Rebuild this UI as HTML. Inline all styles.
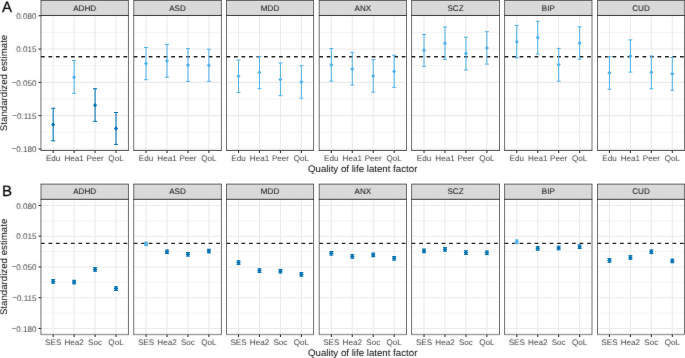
<!DOCTYPE html><html><head><meta charset="utf-8"><style>
html,body{margin:0;padding:0;background:#fff;}
svg{display:block;will-change:transform;}
text{font-family:"Liberation Sans",sans-serif;text-rendering:geometricPrecision;}
.tk{font-size:8.1px;fill:#404040;}
.st{font-size:8.1px;fill:#0A0A0A;}
.ti{font-size:9.7px;fill:#000;}
.tg{font-size:15px;fill:#000;stroke:#000;stroke-width:0.25px;}
</style></head><body>
<svg width="685" height="358" viewBox="0 0 685 358">
<defs><filter id="tb" x="0" y="0" width="685" height="358" filterUnits="userSpaceOnUse"><feConvolveMatrix order="3" kernelMatrix="0.01 0.05 0.01 0.08 0.70 0.08 0.01 0.05 0.01" edgeMode="none"/></filter></defs>
<rect x="0" y="0" width="685" height="358" fill="#fff"/>
<line x1="40.96" x2="128.45" y1="32.41" y2="32.41" stroke="#EBEBEB" stroke-width="0.55"/>
<line x1="40.96" x2="128.45" y1="65.71" y2="65.71" stroke="#EBEBEB" stroke-width="0.55"/>
<line x1="40.96" x2="128.45" y1="99.01" y2="99.01" stroke="#EBEBEB" stroke-width="0.55"/>
<line x1="40.96" x2="128.45" y1="132.31" y2="132.31" stroke="#EBEBEB" stroke-width="0.55"/>
<line x1="40.96" x2="128.45" y1="15.76" y2="15.76" stroke="#EBEBEB" stroke-width="1.1"/>
<line x1="40.96" x2="128.45" y1="49.06" y2="49.06" stroke="#EBEBEB" stroke-width="1.1"/>
<line x1="40.96" x2="128.45" y1="82.36" y2="82.36" stroke="#EBEBEB" stroke-width="1.1"/>
<line x1="40.96" x2="128.45" y1="115.66" y2="115.66" stroke="#EBEBEB" stroke-width="1.1"/>
<line x1="40.96" x2="128.45" y1="148.96" y2="148.96" stroke="#EBEBEB" stroke-width="1.1"/>
<line x1="53.18" x2="53.18" y1="15.45" y2="150.45" stroke="#EBEBEB" stroke-width="1.1"/>
<line x1="74.13" x2="74.13" y1="15.45" y2="150.45" stroke="#EBEBEB" stroke-width="1.1"/>
<line x1="95.08" x2="95.08" y1="15.45" y2="150.45" stroke="#EBEBEB" stroke-width="1.1"/>
<line x1="116.03" x2="116.03" y1="15.45" y2="150.45" stroke="#EBEBEB" stroke-width="1.1"/>
<line x1="40.96" x2="128.45" y1="56.74" y2="56.74" stroke="#262626" stroke-width="1.35" stroke-dasharray="3.75 3.75"/>
<g stroke="#0072B2" stroke-width="1.05" fill="none"><line x1="53.18" x2="53.18" y1="108.3" y2="140.8"/><line x1="51.18" x2="55.18" y1="108.3" y2="108.3"/><line x1="51.18" x2="55.18" y1="140.8" y2="140.8"/></g>
<path d="M51.08 124.6L53.18 122.50L55.28 124.6L53.18 126.70Z" fill="#0072B2"/>
<g stroke="#56B4E9" stroke-width="1.05" fill="none"><line x1="74.13" x2="74.13" y1="60.5" y2="93.3"/><line x1="72.13" x2="76.13" y1="60.5" y2="60.5"/><line x1="72.13" x2="76.13" y1="93.3" y2="93.3"/></g>
<path d="M72.03 77.3L74.13 75.20L76.23 77.3L74.13 79.40Z" fill="#56B4E9"/>
<g stroke="#0072B2" stroke-width="1.05" fill="none"><line x1="95.08" x2="95.08" y1="88.7" y2="121.4"/><line x1="93.08" x2="97.08" y1="88.7" y2="88.7"/><line x1="93.08" x2="97.08" y1="121.4" y2="121.4"/></g>
<path d="M92.98 105.2L95.08 103.10L97.18 105.2L95.08 107.30Z" fill="#0072B2"/>
<g stroke="#0072B2" stroke-width="1.05" fill="none"><line x1="116.03" x2="116.03" y1="112.5" y2="144.4"/><line x1="114.03" x2="118.03" y1="112.5" y2="112.5"/><line x1="114.03" x2="118.03" y1="144.4" y2="144.4"/></g>
<path d="M113.93 128.4L116.03 126.30L118.13 128.4L116.03 130.50Z" fill="#0072B2"/>
<rect x="40.96" y="0.40" width="87.49" height="15.05" fill="#D9D9D9"/>
<line x1="40.61" x2="128.80" y1="0.40" y2="0.40" stroke="#333" stroke-width="0.8"/>
<line x1="40.61" x2="128.80" y1="15.45" y2="15.45" stroke="#333" stroke-width="0.95"/>
<line x1="40.61" x2="128.80" y1="150.45" y2="150.45" stroke="#333" stroke-width="0.85"/>
<line x1="40.96" x2="40.96" y1="0.40" y2="150.45" stroke="#333" stroke-width="0.7"/>
<line x1="128.45" x2="128.45" y1="0.40" y2="150.45" stroke="#333" stroke-width="0.7"/>
<line x1="53.18" x2="53.18" y1="150.45" y2="152.88" stroke="#333" stroke-width="1.1"/>
<line x1="74.13" x2="74.13" y1="150.45" y2="152.88" stroke="#333" stroke-width="1.1"/>
<line x1="95.08" x2="95.08" y1="150.45" y2="152.88" stroke="#333" stroke-width="1.1"/>
<line x1="116.03" x2="116.03" y1="150.45" y2="152.88" stroke="#333" stroke-width="1.1"/>
<line x1="133.72" x2="221.40" y1="32.41" y2="32.41" stroke="#EBEBEB" stroke-width="0.55"/>
<line x1="133.72" x2="221.40" y1="65.71" y2="65.71" stroke="#EBEBEB" stroke-width="0.55"/>
<line x1="133.72" x2="221.40" y1="99.01" y2="99.01" stroke="#EBEBEB" stroke-width="0.55"/>
<line x1="133.72" x2="221.40" y1="132.31" y2="132.31" stroke="#EBEBEB" stroke-width="0.55"/>
<line x1="133.72" x2="221.40" y1="15.76" y2="15.76" stroke="#EBEBEB" stroke-width="1.1"/>
<line x1="133.72" x2="221.40" y1="49.06" y2="49.06" stroke="#EBEBEB" stroke-width="1.1"/>
<line x1="133.72" x2="221.40" y1="82.36" y2="82.36" stroke="#EBEBEB" stroke-width="1.1"/>
<line x1="133.72" x2="221.40" y1="115.66" y2="115.66" stroke="#EBEBEB" stroke-width="1.1"/>
<line x1="133.72" x2="221.40" y1="148.96" y2="148.96" stroke="#EBEBEB" stroke-width="1.1"/>
<line x1="146.04" x2="146.04" y1="15.45" y2="150.45" stroke="#EBEBEB" stroke-width="1.1"/>
<line x1="166.99" x2="166.99" y1="15.45" y2="150.45" stroke="#EBEBEB" stroke-width="1.1"/>
<line x1="187.94" x2="187.94" y1="15.45" y2="150.45" stroke="#EBEBEB" stroke-width="1.1"/>
<line x1="208.88" x2="208.88" y1="15.45" y2="150.45" stroke="#EBEBEB" stroke-width="1.1"/>
<line x1="133.72" x2="221.40" y1="56.74" y2="56.74" stroke="#262626" stroke-width="1.35" stroke-dasharray="3.75 3.75"/>
<g stroke="#56B4E9" stroke-width="1.05" fill="none"><line x1="146.04" x2="146.04" y1="47.5" y2="79.7"/><line x1="144.04" x2="148.04" y1="47.5" y2="47.5"/><line x1="144.04" x2="148.04" y1="79.7" y2="79.7"/></g>
<path d="M143.94 63.6L146.04 61.50L148.14 63.6L146.04 65.70Z" fill="#56B4E9"/>
<g stroke="#56B4E9" stroke-width="1.05" fill="none"><line x1="166.99" x2="166.99" y1="44.4" y2="77.2"/><line x1="164.99" x2="168.99" y1="44.4" y2="44.4"/><line x1="164.99" x2="168.99" y1="77.2" y2="77.2"/></g>
<path d="M164.89 60.9L166.99 58.80L169.09 60.9L166.99 63.00Z" fill="#56B4E9"/>
<g stroke="#56B4E9" stroke-width="1.05" fill="none"><line x1="187.94" x2="187.94" y1="48.6" y2="81.4"/><line x1="185.94" x2="189.94" y1="48.6" y2="48.6"/><line x1="185.94" x2="189.94" y1="81.4" y2="81.4"/></g>
<path d="M185.84 65.1L187.94 63.00L190.03 65.1L187.94 67.20Z" fill="#56B4E9"/>
<g stroke="#56B4E9" stroke-width="1.05" fill="none"><line x1="208.88" x2="208.88" y1="49.2" y2="81.4"/><line x1="206.88" x2="210.88" y1="49.2" y2="49.2"/><line x1="206.88" x2="210.88" y1="81.4" y2="81.4"/></g>
<path d="M206.78 65.3L208.88 63.20L210.98 65.3L208.88 67.40Z" fill="#56B4E9"/>
<rect x="133.72" y="0.40" width="87.68" height="15.05" fill="#D9D9D9"/>
<line x1="133.37" x2="221.75" y1="0.40" y2="0.40" stroke="#333" stroke-width="0.8"/>
<line x1="133.37" x2="221.75" y1="15.45" y2="15.45" stroke="#333" stroke-width="0.95"/>
<line x1="133.37" x2="221.75" y1="150.45" y2="150.45" stroke="#333" stroke-width="0.85"/>
<line x1="133.72" x2="133.72" y1="0.40" y2="150.45" stroke="#333" stroke-width="0.7"/>
<line x1="221.40" x2="221.40" y1="0.40" y2="150.45" stroke="#333" stroke-width="0.7"/>
<line x1="146.04" x2="146.04" y1="150.45" y2="152.88" stroke="#333" stroke-width="1.1"/>
<line x1="166.99" x2="166.99" y1="150.45" y2="152.88" stroke="#333" stroke-width="1.1"/>
<line x1="187.94" x2="187.94" y1="150.45" y2="152.88" stroke="#333" stroke-width="1.1"/>
<line x1="208.88" x2="208.88" y1="150.45" y2="152.88" stroke="#333" stroke-width="1.1"/>
<line x1="226.50" x2="313.60" y1="32.41" y2="32.41" stroke="#EBEBEB" stroke-width="0.55"/>
<line x1="226.50" x2="313.60" y1="65.71" y2="65.71" stroke="#EBEBEB" stroke-width="0.55"/>
<line x1="226.50" x2="313.60" y1="99.01" y2="99.01" stroke="#EBEBEB" stroke-width="0.55"/>
<line x1="226.50" x2="313.60" y1="132.31" y2="132.31" stroke="#EBEBEB" stroke-width="0.55"/>
<line x1="226.50" x2="313.60" y1="15.76" y2="15.76" stroke="#EBEBEB" stroke-width="1.1"/>
<line x1="226.50" x2="313.60" y1="49.06" y2="49.06" stroke="#EBEBEB" stroke-width="1.1"/>
<line x1="226.50" x2="313.60" y1="82.36" y2="82.36" stroke="#EBEBEB" stroke-width="1.1"/>
<line x1="226.50" x2="313.60" y1="115.66" y2="115.66" stroke="#EBEBEB" stroke-width="1.1"/>
<line x1="226.50" x2="313.60" y1="148.96" y2="148.96" stroke="#EBEBEB" stroke-width="1.1"/>
<line x1="238.52" x2="238.52" y1="15.45" y2="150.45" stroke="#EBEBEB" stroke-width="1.1"/>
<line x1="259.47" x2="259.47" y1="15.45" y2="150.45" stroke="#EBEBEB" stroke-width="1.1"/>
<line x1="280.43" x2="280.43" y1="15.45" y2="150.45" stroke="#EBEBEB" stroke-width="1.1"/>
<line x1="301.38" x2="301.38" y1="15.45" y2="150.45" stroke="#EBEBEB" stroke-width="1.1"/>
<line x1="226.50" x2="313.60" y1="56.74" y2="56.74" stroke="#262626" stroke-width="1.35" stroke-dasharray="3.75 3.75"/>
<g stroke="#56B4E9" stroke-width="1.05" fill="none"><line x1="238.52" x2="238.52" y1="60.0" y2="92.5"/><line x1="236.52" x2="240.52" y1="60.0" y2="60.0"/><line x1="236.52" x2="240.52" y1="92.5" y2="92.5"/></g>
<path d="M236.42 76.2L238.52 74.10L240.62 76.2L238.52 78.30Z" fill="#56B4E9"/>
<g stroke="#56B4E9" stroke-width="1.05" fill="none"><line x1="259.47" x2="259.47" y1="56.4" y2="88.7"/><line x1="257.47" x2="261.47" y1="56.4" y2="56.4"/><line x1="257.47" x2="261.47" y1="88.7" y2="88.7"/></g>
<path d="M257.37 72.5L259.47 70.40L261.57 72.5L259.47 74.60Z" fill="#56B4E9"/>
<g stroke="#56B4E9" stroke-width="1.05" fill="none"><line x1="280.43" x2="280.43" y1="62.9" y2="95.7"/><line x1="278.43" x2="282.43" y1="62.9" y2="62.9"/><line x1="278.43" x2="282.43" y1="95.7" y2="95.7"/></g>
<path d="M278.32 79.4L280.43 77.30L282.53 79.4L280.43 81.50Z" fill="#56B4E9"/>
<g stroke="#56B4E9" stroke-width="1.05" fill="none"><line x1="301.38" x2="301.38" y1="65.6" y2="98.2"/><line x1="299.38" x2="303.38" y1="65.6" y2="65.6"/><line x1="299.38" x2="303.38" y1="98.2" y2="98.2"/></g>
<path d="M299.27 81.9L301.38 79.80L303.48 81.9L301.38 84.00Z" fill="#56B4E9"/>
<rect x="226.50" y="0.40" width="87.10" height="15.05" fill="#D9D9D9"/>
<line x1="226.15" x2="313.95" y1="0.40" y2="0.40" stroke="#333" stroke-width="0.8"/>
<line x1="226.15" x2="313.95" y1="15.45" y2="15.45" stroke="#333" stroke-width="0.95"/>
<line x1="226.15" x2="313.95" y1="150.45" y2="150.45" stroke="#333" stroke-width="0.85"/>
<line x1="226.50" x2="226.50" y1="0.40" y2="150.45" stroke="#333" stroke-width="0.7"/>
<line x1="313.60" x2="313.60" y1="0.40" y2="150.45" stroke="#333" stroke-width="0.7"/>
<line x1="238.52" x2="238.52" y1="150.45" y2="152.88" stroke="#333" stroke-width="1.1"/>
<line x1="259.47" x2="259.47" y1="150.45" y2="152.88" stroke="#333" stroke-width="1.1"/>
<line x1="280.43" x2="280.43" y1="150.45" y2="152.88" stroke="#333" stroke-width="1.1"/>
<line x1="301.38" x2="301.38" y1="150.45" y2="152.88" stroke="#333" stroke-width="1.1"/>
<line x1="319.20" x2="406.50" y1="32.41" y2="32.41" stroke="#EBEBEB" stroke-width="0.55"/>
<line x1="319.20" x2="406.50" y1="65.71" y2="65.71" stroke="#EBEBEB" stroke-width="0.55"/>
<line x1="319.20" x2="406.50" y1="99.01" y2="99.01" stroke="#EBEBEB" stroke-width="0.55"/>
<line x1="319.20" x2="406.50" y1="132.31" y2="132.31" stroke="#EBEBEB" stroke-width="0.55"/>
<line x1="319.20" x2="406.50" y1="15.76" y2="15.76" stroke="#EBEBEB" stroke-width="1.1"/>
<line x1="319.20" x2="406.50" y1="49.06" y2="49.06" stroke="#EBEBEB" stroke-width="1.1"/>
<line x1="319.20" x2="406.50" y1="82.36" y2="82.36" stroke="#EBEBEB" stroke-width="1.1"/>
<line x1="319.20" x2="406.50" y1="115.66" y2="115.66" stroke="#EBEBEB" stroke-width="1.1"/>
<line x1="319.20" x2="406.50" y1="148.96" y2="148.96" stroke="#EBEBEB" stroke-width="1.1"/>
<line x1="331.32" x2="331.32" y1="15.45" y2="150.45" stroke="#EBEBEB" stroke-width="1.1"/>
<line x1="352.27" x2="352.27" y1="15.45" y2="150.45" stroke="#EBEBEB" stroke-width="1.1"/>
<line x1="373.23" x2="373.23" y1="15.45" y2="150.45" stroke="#EBEBEB" stroke-width="1.1"/>
<line x1="394.18" x2="394.18" y1="15.45" y2="150.45" stroke="#EBEBEB" stroke-width="1.1"/>
<line x1="319.20" x2="406.50" y1="56.74" y2="56.74" stroke="#262626" stroke-width="1.35" stroke-dasharray="3.75 3.75"/>
<g stroke="#56B4E9" stroke-width="1.05" fill="none"><line x1="331.32" x2="331.32" y1="48.6" y2="81.2"/><line x1="329.32" x2="333.32" y1="48.6" y2="48.6"/><line x1="329.32" x2="333.32" y1="81.2" y2="81.2"/></g>
<path d="M329.22 64.9L331.32 62.80L333.43 64.9L331.32 67.00Z" fill="#56B4E9"/>
<g stroke="#56B4E9" stroke-width="1.05" fill="none"><line x1="352.27" x2="352.27" y1="52.4" y2="85.0"/><line x1="350.27" x2="354.27" y1="52.4" y2="52.4"/><line x1="350.27" x2="354.27" y1="85.0" y2="85.0"/></g>
<path d="M350.17 68.9L352.27 66.80L354.38 68.9L352.27 71.00Z" fill="#56B4E9"/>
<g stroke="#56B4E9" stroke-width="1.05" fill="none"><line x1="373.23" x2="373.23" y1="59.6" y2="92.2"/><line x1="371.23" x2="375.23" y1="59.6" y2="59.6"/><line x1="371.23" x2="375.23" y1="92.2" y2="92.2"/></g>
<path d="M371.12 76.1L373.23 74.00L375.33 76.1L373.23 78.20Z" fill="#56B4E9"/>
<g stroke="#56B4E9" stroke-width="1.05" fill="none"><line x1="394.18" x2="394.18" y1="55.2" y2="87.3"/><line x1="392.18" x2="396.18" y1="55.2" y2="55.2"/><line x1="392.18" x2="396.18" y1="87.3" y2="87.3"/></g>
<path d="M392.07 71.4L394.18 69.30L396.28 71.4L394.18 73.50Z" fill="#56B4E9"/>
<rect x="319.20" y="0.40" width="87.30" height="15.05" fill="#D9D9D9"/>
<line x1="318.85" x2="406.85" y1="0.40" y2="0.40" stroke="#333" stroke-width="0.8"/>
<line x1="318.85" x2="406.85" y1="15.45" y2="15.45" stroke="#333" stroke-width="0.95"/>
<line x1="318.85" x2="406.85" y1="150.45" y2="150.45" stroke="#333" stroke-width="0.85"/>
<line x1="319.20" x2="319.20" y1="0.40" y2="150.45" stroke="#333" stroke-width="0.7"/>
<line x1="406.50" x2="406.50" y1="0.40" y2="150.45" stroke="#333" stroke-width="0.7"/>
<line x1="331.32" x2="331.32" y1="150.45" y2="152.88" stroke="#333" stroke-width="1.1"/>
<line x1="352.27" x2="352.27" y1="150.45" y2="152.88" stroke="#333" stroke-width="1.1"/>
<line x1="373.23" x2="373.23" y1="150.45" y2="152.88" stroke="#333" stroke-width="1.1"/>
<line x1="394.18" x2="394.18" y1="150.45" y2="152.88" stroke="#333" stroke-width="1.1"/>
<line x1="411.60" x2="499.50" y1="32.41" y2="32.41" stroke="#EBEBEB" stroke-width="0.55"/>
<line x1="411.60" x2="499.50" y1="65.71" y2="65.71" stroke="#EBEBEB" stroke-width="0.55"/>
<line x1="411.60" x2="499.50" y1="99.01" y2="99.01" stroke="#EBEBEB" stroke-width="0.55"/>
<line x1="411.60" x2="499.50" y1="132.31" y2="132.31" stroke="#EBEBEB" stroke-width="0.55"/>
<line x1="411.60" x2="499.50" y1="15.76" y2="15.76" stroke="#EBEBEB" stroke-width="1.1"/>
<line x1="411.60" x2="499.50" y1="49.06" y2="49.06" stroke="#EBEBEB" stroke-width="1.1"/>
<line x1="411.60" x2="499.50" y1="82.36" y2="82.36" stroke="#EBEBEB" stroke-width="1.1"/>
<line x1="411.60" x2="499.50" y1="115.66" y2="115.66" stroke="#EBEBEB" stroke-width="1.1"/>
<line x1="411.60" x2="499.50" y1="148.96" y2="148.96" stroke="#EBEBEB" stroke-width="1.1"/>
<line x1="424.02" x2="424.02" y1="15.45" y2="150.45" stroke="#EBEBEB" stroke-width="1.1"/>
<line x1="444.97" x2="444.97" y1="15.45" y2="150.45" stroke="#EBEBEB" stroke-width="1.1"/>
<line x1="465.93" x2="465.93" y1="15.45" y2="150.45" stroke="#EBEBEB" stroke-width="1.1"/>
<line x1="486.88" x2="486.88" y1="15.45" y2="150.45" stroke="#EBEBEB" stroke-width="1.1"/>
<line x1="411.60" x2="499.50" y1="56.74" y2="56.74" stroke="#262626" stroke-width="1.35" stroke-dasharray="3.75 3.75"/>
<g stroke="#56B4E9" stroke-width="1.05" fill="none"><line x1="424.02" x2="424.02" y1="34.4" y2="66.4"/><line x1="422.02" x2="426.02" y1="34.4" y2="34.4"/><line x1="422.02" x2="426.02" y1="66.4" y2="66.4"/></g>
<path d="M421.92 50.3L424.02 48.20L426.12 50.3L424.02 52.40Z" fill="#56B4E9"/>
<g stroke="#56B4E9" stroke-width="1.05" fill="none"><line x1="444.97" x2="444.97" y1="27.0" y2="59.4"/><line x1="442.97" x2="446.97" y1="27.0" y2="27.0"/><line x1="442.97" x2="446.97" y1="59.4" y2="59.4"/></g>
<path d="M442.87 43.3L444.97 41.20L447.07 43.3L444.97 45.40Z" fill="#56B4E9"/>
<g stroke="#56B4E9" stroke-width="1.05" fill="none"><line x1="465.93" x2="465.93" y1="37.2" y2="70.0"/><line x1="463.93" x2="467.93" y1="37.2" y2="37.2"/><line x1="463.93" x2="467.93" y1="70.0" y2="70.0"/></g>
<path d="M463.82 53.5L465.93 51.40L468.03 53.5L465.93 55.60Z" fill="#56B4E9"/>
<g stroke="#56B4E9" stroke-width="1.05" fill="none"><line x1="486.88" x2="486.88" y1="31.7" y2="64.1"/><line x1="484.88" x2="488.88" y1="31.7" y2="31.7"/><line x1="484.88" x2="488.88" y1="64.1" y2="64.1"/></g>
<path d="M484.77 48.0L486.88 45.90L488.98 48.0L486.88 50.10Z" fill="#56B4E9"/>
<rect x="411.60" y="0.40" width="87.90" height="15.05" fill="#D9D9D9"/>
<line x1="411.25" x2="499.85" y1="0.40" y2="0.40" stroke="#333" stroke-width="0.8"/>
<line x1="411.25" x2="499.85" y1="15.45" y2="15.45" stroke="#333" stroke-width="0.95"/>
<line x1="411.25" x2="499.85" y1="150.45" y2="150.45" stroke="#333" stroke-width="0.85"/>
<line x1="411.60" x2="411.60" y1="0.40" y2="150.45" stroke="#333" stroke-width="0.7"/>
<line x1="499.50" x2="499.50" y1="0.40" y2="150.45" stroke="#333" stroke-width="0.7"/>
<line x1="424.02" x2="424.02" y1="150.45" y2="152.88" stroke="#333" stroke-width="1.1"/>
<line x1="444.97" x2="444.97" y1="150.45" y2="152.88" stroke="#333" stroke-width="1.1"/>
<line x1="465.93" x2="465.93" y1="150.45" y2="152.88" stroke="#333" stroke-width="1.1"/>
<line x1="486.88" x2="486.88" y1="150.45" y2="152.88" stroke="#333" stroke-width="1.1"/>
<line x1="504.60" x2="592.00" y1="32.41" y2="32.41" stroke="#EBEBEB" stroke-width="0.55"/>
<line x1="504.60" x2="592.00" y1="65.71" y2="65.71" stroke="#EBEBEB" stroke-width="0.55"/>
<line x1="504.60" x2="592.00" y1="99.01" y2="99.01" stroke="#EBEBEB" stroke-width="0.55"/>
<line x1="504.60" x2="592.00" y1="132.31" y2="132.31" stroke="#EBEBEB" stroke-width="0.55"/>
<line x1="504.60" x2="592.00" y1="15.76" y2="15.76" stroke="#EBEBEB" stroke-width="1.1"/>
<line x1="504.60" x2="592.00" y1="49.06" y2="49.06" stroke="#EBEBEB" stroke-width="1.1"/>
<line x1="504.60" x2="592.00" y1="82.36" y2="82.36" stroke="#EBEBEB" stroke-width="1.1"/>
<line x1="504.60" x2="592.00" y1="115.66" y2="115.66" stroke="#EBEBEB" stroke-width="1.1"/>
<line x1="504.60" x2="592.00" y1="148.96" y2="148.96" stroke="#EBEBEB" stroke-width="1.1"/>
<line x1="516.77" x2="516.77" y1="15.45" y2="150.45" stroke="#EBEBEB" stroke-width="1.1"/>
<line x1="537.72" x2="537.72" y1="15.45" y2="150.45" stroke="#EBEBEB" stroke-width="1.1"/>
<line x1="558.67" x2="558.67" y1="15.45" y2="150.45" stroke="#EBEBEB" stroke-width="1.1"/>
<line x1="579.62" x2="579.62" y1="15.45" y2="150.45" stroke="#EBEBEB" stroke-width="1.1"/>
<line x1="504.60" x2="592.00" y1="56.74" y2="56.74" stroke="#262626" stroke-width="1.35" stroke-dasharray="3.75 3.75"/>
<g stroke="#56B4E9" stroke-width="1.05" fill="none"><line x1="516.77" x2="516.77" y1="25.4" y2="57.9"/><line x1="514.77" x2="518.77" y1="25.4" y2="25.4"/><line x1="514.77" x2="518.77" y1="57.9" y2="57.9"/></g>
<path d="M514.67 41.8L516.77 39.70L518.88 41.8L516.77 43.90Z" fill="#56B4E9"/>
<g stroke="#56B4E9" stroke-width="1.05" fill="none"><line x1="537.72" x2="537.72" y1="21.3" y2="54.1"/><line x1="535.72" x2="539.72" y1="21.3" y2="21.3"/><line x1="535.72" x2="539.72" y1="54.1" y2="54.1"/></g>
<path d="M535.62 37.6L537.72 35.50L539.82 37.6L537.72 39.70Z" fill="#56B4E9"/>
<g stroke="#56B4E9" stroke-width="1.05" fill="none"><line x1="558.67" x2="558.67" y1="48.4" y2="81.2"/><line x1="556.67" x2="560.67" y1="48.4" y2="48.4"/><line x1="556.67" x2="560.67" y1="81.2" y2="81.2"/></g>
<path d="M556.57 64.7L558.67 62.60L560.77 64.7L558.67 66.80Z" fill="#56B4E9"/>
<g stroke="#56B4E9" stroke-width="1.05" fill="none"><line x1="579.62" x2="579.62" y1="26.8" y2="59.2"/><line x1="577.62" x2="581.62" y1="26.8" y2="26.8"/><line x1="577.62" x2="581.62" y1="59.2" y2="59.2"/></g>
<path d="M577.52 43.1L579.62 41.00L581.72 43.1L579.62 45.20Z" fill="#56B4E9"/>
<rect x="504.60" y="0.40" width="87.40" height="15.05" fill="#D9D9D9"/>
<line x1="504.25" x2="592.35" y1="0.40" y2="0.40" stroke="#333" stroke-width="0.8"/>
<line x1="504.25" x2="592.35" y1="15.45" y2="15.45" stroke="#333" stroke-width="0.95"/>
<line x1="504.25" x2="592.35" y1="150.45" y2="150.45" stroke="#333" stroke-width="0.85"/>
<line x1="504.60" x2="504.60" y1="0.40" y2="150.45" stroke="#333" stroke-width="0.7"/>
<line x1="592.00" x2="592.00" y1="0.40" y2="150.45" stroke="#333" stroke-width="0.7"/>
<line x1="516.77" x2="516.77" y1="150.45" y2="152.88" stroke="#333" stroke-width="1.1"/>
<line x1="537.72" x2="537.72" y1="150.45" y2="152.88" stroke="#333" stroke-width="1.1"/>
<line x1="558.67" x2="558.67" y1="150.45" y2="152.88" stroke="#333" stroke-width="1.1"/>
<line x1="579.62" x2="579.62" y1="150.45" y2="152.88" stroke="#333" stroke-width="1.1"/>
<line x1="597.50" x2="684.45" y1="32.41" y2="32.41" stroke="#EBEBEB" stroke-width="0.55"/>
<line x1="597.50" x2="684.45" y1="65.71" y2="65.71" stroke="#EBEBEB" stroke-width="0.55"/>
<line x1="597.50" x2="684.45" y1="99.01" y2="99.01" stroke="#EBEBEB" stroke-width="0.55"/>
<line x1="597.50" x2="684.45" y1="132.31" y2="132.31" stroke="#EBEBEB" stroke-width="0.55"/>
<line x1="597.50" x2="684.45" y1="15.76" y2="15.76" stroke="#EBEBEB" stroke-width="1.1"/>
<line x1="597.50" x2="684.45" y1="49.06" y2="49.06" stroke="#EBEBEB" stroke-width="1.1"/>
<line x1="597.50" x2="684.45" y1="82.36" y2="82.36" stroke="#EBEBEB" stroke-width="1.1"/>
<line x1="597.50" x2="684.45" y1="115.66" y2="115.66" stroke="#EBEBEB" stroke-width="1.1"/>
<line x1="597.50" x2="684.45" y1="148.96" y2="148.96" stroke="#EBEBEB" stroke-width="1.1"/>
<line x1="609.45" x2="609.45" y1="15.45" y2="150.45" stroke="#EBEBEB" stroke-width="1.1"/>
<line x1="630.40" x2="630.40" y1="15.45" y2="150.45" stroke="#EBEBEB" stroke-width="1.1"/>
<line x1="651.35" x2="651.35" y1="15.45" y2="150.45" stroke="#EBEBEB" stroke-width="1.1"/>
<line x1="672.30" x2="672.30" y1="15.45" y2="150.45" stroke="#EBEBEB" stroke-width="1.1"/>
<line x1="597.50" x2="684.45" y1="56.74" y2="56.74" stroke="#262626" stroke-width="1.35" stroke-dasharray="3.75 3.75"/>
<g stroke="#56B4E9" stroke-width="1.05" fill="none"><line x1="609.45" x2="609.45" y1="56.6" y2="89.2"/><line x1="607.45" x2="611.45" y1="56.6" y2="56.6"/><line x1="607.45" x2="611.45" y1="89.2" y2="89.2"/></g>
<path d="M607.35 72.9L609.45 70.80L611.55 72.9L609.45 75.00Z" fill="#56B4E9"/>
<g stroke="#56B4E9" stroke-width="1.05" fill="none"><line x1="630.40" x2="630.40" y1="39.9" y2="72.1"/><line x1="628.40" x2="632.40" y1="39.9" y2="39.9"/><line x1="628.40" x2="632.40" y1="72.1" y2="72.1"/></g>
<path d="M628.30 56.0L630.40 53.90L632.50 56.0L630.40 58.10Z" fill="#56B4E9"/>
<g stroke="#56B4E9" stroke-width="1.05" fill="none"><line x1="651.35" x2="651.35" y1="56.0" y2="88.8"/><line x1="649.35" x2="653.35" y1="56.0" y2="56.0"/><line x1="649.35" x2="653.35" y1="88.8" y2="88.8"/></g>
<path d="M649.25 72.3L651.35 70.20L653.45 72.3L651.35 74.40Z" fill="#56B4E9"/>
<g stroke="#56B4E9" stroke-width="1.05" fill="none"><line x1="672.30" x2="672.30" y1="57.5" y2="90.3"/><line x1="670.30" x2="674.30" y1="57.5" y2="57.5"/><line x1="670.30" x2="674.30" y1="90.3" y2="90.3"/></g>
<path d="M670.20 73.8L672.30 71.70L674.40 73.8L672.30 75.90Z" fill="#56B4E9"/>
<rect x="597.50" y="0.40" width="86.95" height="15.05" fill="#D9D9D9"/>
<line x1="597.15" x2="684.80" y1="0.40" y2="0.40" stroke="#333" stroke-width="0.8"/>
<line x1="597.15" x2="684.80" y1="15.45" y2="15.45" stroke="#333" stroke-width="0.95"/>
<line x1="597.15" x2="684.80" y1="150.45" y2="150.45" stroke="#333" stroke-width="0.85"/>
<line x1="597.50" x2="597.50" y1="0.40" y2="150.45" stroke="#333" stroke-width="0.7"/>
<line x1="684.45" x2="684.45" y1="0.40" y2="150.45" stroke="#333" stroke-width="0.7"/>
<line x1="609.45" x2="609.45" y1="150.45" y2="152.88" stroke="#333" stroke-width="1.1"/>
<line x1="630.40" x2="630.40" y1="150.45" y2="152.88" stroke="#333" stroke-width="1.1"/>
<line x1="651.35" x2="651.35" y1="150.45" y2="152.88" stroke="#333" stroke-width="1.1"/>
<line x1="672.30" x2="672.30" y1="150.45" y2="152.88" stroke="#333" stroke-width="1.1"/>
<line x1="38.53" x2="40.96" y1="15.76" y2="15.76" stroke="#333" stroke-width="1.1"/>
<line x1="38.53" x2="40.96" y1="49.06" y2="49.06" stroke="#333" stroke-width="1.1"/>
<line x1="38.53" x2="40.96" y1="82.36" y2="82.36" stroke="#333" stroke-width="1.1"/>
<line x1="38.53" x2="40.96" y1="115.66" y2="115.66" stroke="#333" stroke-width="1.1"/>
<line x1="38.53" x2="40.96" y1="148.96" y2="148.96" stroke="#333" stroke-width="1.1"/>
<line x1="40.96" x2="128.45" y1="220.83" y2="220.83" stroke="#EBEBEB" stroke-width="0.55"/>
<line x1="40.96" x2="128.45" y1="251.58" y2="251.58" stroke="#EBEBEB" stroke-width="0.55"/>
<line x1="40.96" x2="128.45" y1="282.33" y2="282.33" stroke="#EBEBEB" stroke-width="0.55"/>
<line x1="40.96" x2="128.45" y1="313.08" y2="313.08" stroke="#EBEBEB" stroke-width="0.55"/>
<line x1="40.96" x2="128.45" y1="205.45" y2="205.45" stroke="#EBEBEB" stroke-width="1.1"/>
<line x1="40.96" x2="128.45" y1="236.20" y2="236.20" stroke="#EBEBEB" stroke-width="1.1"/>
<line x1="40.96" x2="128.45" y1="266.95" y2="266.95" stroke="#EBEBEB" stroke-width="1.1"/>
<line x1="40.96" x2="128.45" y1="297.70" y2="297.70" stroke="#EBEBEB" stroke-width="1.1"/>
<line x1="40.96" x2="128.45" y1="328.45" y2="328.45" stroke="#EBEBEB" stroke-width="1.1"/>
<line x1="53.18" x2="53.18" y1="199.30" y2="334.50" stroke="#EBEBEB" stroke-width="1.1"/>
<line x1="74.13" x2="74.13" y1="199.30" y2="334.50" stroke="#EBEBEB" stroke-width="1.1"/>
<line x1="95.08" x2="95.08" y1="199.30" y2="334.50" stroke="#EBEBEB" stroke-width="1.1"/>
<line x1="116.03" x2="116.03" y1="199.30" y2="334.50" stroke="#EBEBEB" stroke-width="1.1"/>
<line x1="40.96" x2="128.45" y1="243.30" y2="243.30" stroke="#262626" stroke-width="1.35" stroke-dasharray="3.75 3.75"/>
<g stroke="#0072B2" stroke-width="1.05" fill="none"><line x1="53.18" x2="53.18" y1="279.59999999999997" y2="283.2"/><line x1="51.18" x2="55.18" y1="279.59999999999997" y2="279.59999999999997"/><line x1="51.18" x2="55.18" y1="283.2" y2="283.2"/></g>
<path d="M50.88 281.4L53.18 279.10L55.48 281.4L53.18 283.70Z" fill="#0072B2"/>
<g stroke="#0072B2" stroke-width="1.05" fill="none"><line x1="74.13" x2="74.13" y1="280.3" y2="283.90000000000003"/><line x1="72.13" x2="76.13" y1="280.3" y2="280.3"/><line x1="72.13" x2="76.13" y1="283.90000000000003" y2="283.90000000000003"/></g>
<path d="M71.83 282.1L74.13 279.80L76.43 282.1L74.13 284.40Z" fill="#0072B2"/>
<g stroke="#0072B2" stroke-width="1.05" fill="none"><line x1="95.08" x2="95.08" y1="267.59999999999997" y2="271.2"/><line x1="93.08" x2="97.08" y1="267.59999999999997" y2="267.59999999999997"/><line x1="93.08" x2="97.08" y1="271.2" y2="271.2"/></g>
<path d="M92.78 269.4L95.08 267.10L97.38 269.4L95.08 271.70Z" fill="#0072B2"/>
<g stroke="#0072B2" stroke-width="1.05" fill="none"><line x1="116.03" x2="116.03" y1="286.8" y2="290.40000000000003"/><line x1="114.03" x2="118.03" y1="286.8" y2="286.8"/><line x1="114.03" x2="118.03" y1="290.40000000000003" y2="290.40000000000003"/></g>
<path d="M113.73 288.6L116.03 286.30L118.33 288.6L116.03 290.90Z" fill="#0072B2"/>
<rect x="40.96" y="184.10" width="87.49" height="15.20" fill="#D9D9D9"/>
<line x1="40.61" x2="128.80" y1="184.10" y2="184.10" stroke="#333" stroke-width="0.75"/>
<line x1="40.61" x2="128.80" y1="199.30" y2="199.30" stroke="#333" stroke-width="0.95"/>
<line x1="40.61" x2="128.80" y1="334.50" y2="334.50" stroke="#A5A5A5" stroke-width="1.6"/>
<line x1="40.96" x2="40.96" y1="184.10" y2="334.50" stroke="#333" stroke-width="0.7"/>
<line x1="128.45" x2="128.45" y1="184.10" y2="334.50" stroke="#333" stroke-width="0.7"/>
<line x1="53.18" x2="53.18" y1="334.50" y2="336.93" stroke="#333" stroke-width="1.1"/>
<line x1="74.13" x2="74.13" y1="334.50" y2="336.93" stroke="#333" stroke-width="1.1"/>
<line x1="95.08" x2="95.08" y1="334.50" y2="336.93" stroke="#333" stroke-width="1.1"/>
<line x1="116.03" x2="116.03" y1="334.50" y2="336.93" stroke="#333" stroke-width="1.1"/>
<line x1="133.72" x2="221.40" y1="220.83" y2="220.83" stroke="#EBEBEB" stroke-width="0.55"/>
<line x1="133.72" x2="221.40" y1="251.58" y2="251.58" stroke="#EBEBEB" stroke-width="0.55"/>
<line x1="133.72" x2="221.40" y1="282.33" y2="282.33" stroke="#EBEBEB" stroke-width="0.55"/>
<line x1="133.72" x2="221.40" y1="313.08" y2="313.08" stroke="#EBEBEB" stroke-width="0.55"/>
<line x1="133.72" x2="221.40" y1="205.45" y2="205.45" stroke="#EBEBEB" stroke-width="1.1"/>
<line x1="133.72" x2="221.40" y1="236.20" y2="236.20" stroke="#EBEBEB" stroke-width="1.1"/>
<line x1="133.72" x2="221.40" y1="266.95" y2="266.95" stroke="#EBEBEB" stroke-width="1.1"/>
<line x1="133.72" x2="221.40" y1="297.70" y2="297.70" stroke="#EBEBEB" stroke-width="1.1"/>
<line x1="133.72" x2="221.40" y1="328.45" y2="328.45" stroke="#EBEBEB" stroke-width="1.1"/>
<line x1="146.04" x2="146.04" y1="199.30" y2="334.50" stroke="#EBEBEB" stroke-width="1.1"/>
<line x1="166.99" x2="166.99" y1="199.30" y2="334.50" stroke="#EBEBEB" stroke-width="1.1"/>
<line x1="187.94" x2="187.94" y1="199.30" y2="334.50" stroke="#EBEBEB" stroke-width="1.1"/>
<line x1="208.88" x2="208.88" y1="199.30" y2="334.50" stroke="#EBEBEB" stroke-width="1.1"/>
<line x1="133.72" x2="221.40" y1="243.30" y2="243.30" stroke="#262626" stroke-width="1.35" stroke-dasharray="3.75 3.75"/>
<g stroke="#56B4E9" stroke-width="1.05" fill="none"><line x1="146.04" x2="146.04" y1="242.1" y2="245.70000000000002"/><line x1="144.04" x2="148.04" y1="242.1" y2="242.1"/><line x1="144.04" x2="148.04" y1="245.70000000000002" y2="245.70000000000002"/></g>
<path d="M143.74 243.9L146.04 241.60L148.34 243.9L146.04 246.20Z" fill="#56B4E9"/>
<g stroke="#0072B2" stroke-width="1.05" fill="none"><line x1="166.99" x2="166.99" y1="250.0" y2="253.60000000000002"/><line x1="164.99" x2="168.99" y1="250.0" y2="250.0"/><line x1="164.99" x2="168.99" y1="253.60000000000002" y2="253.60000000000002"/></g>
<path d="M164.69 251.8L166.99 249.50L169.29 251.8L166.99 254.10Z" fill="#0072B2"/>
<g stroke="#0072B2" stroke-width="1.05" fill="none"><line x1="187.94" x2="187.94" y1="252.5" y2="256.1"/><line x1="185.94" x2="189.94" y1="252.5" y2="252.5"/><line x1="185.94" x2="189.94" y1="256.1" y2="256.1"/></g>
<path d="M185.63 254.3L187.94 252.00L190.24 254.3L187.94 256.60Z" fill="#0072B2"/>
<g stroke="#0072B2" stroke-width="1.05" fill="none"><line x1="208.88" x2="208.88" y1="249.29999999999998" y2="252.9"/><line x1="206.88" x2="210.88" y1="249.29999999999998" y2="249.29999999999998"/><line x1="206.88" x2="210.88" y1="252.9" y2="252.9"/></g>
<path d="M206.58 251.1L208.88 248.80L211.19 251.1L208.88 253.40Z" fill="#0072B2"/>
<rect x="133.72" y="184.10" width="87.68" height="15.20" fill="#D9D9D9"/>
<line x1="133.37" x2="221.75" y1="184.10" y2="184.10" stroke="#333" stroke-width="0.75"/>
<line x1="133.37" x2="221.75" y1="199.30" y2="199.30" stroke="#333" stroke-width="0.95"/>
<line x1="133.37" x2="221.75" y1="334.50" y2="334.50" stroke="#A5A5A5" stroke-width="1.6"/>
<line x1="133.72" x2="133.72" y1="184.10" y2="334.50" stroke="#333" stroke-width="0.7"/>
<line x1="221.40" x2="221.40" y1="184.10" y2="334.50" stroke="#333" stroke-width="0.7"/>
<line x1="146.04" x2="146.04" y1="334.50" y2="336.93" stroke="#333" stroke-width="1.1"/>
<line x1="166.99" x2="166.99" y1="334.50" y2="336.93" stroke="#333" stroke-width="1.1"/>
<line x1="187.94" x2="187.94" y1="334.50" y2="336.93" stroke="#333" stroke-width="1.1"/>
<line x1="208.88" x2="208.88" y1="334.50" y2="336.93" stroke="#333" stroke-width="1.1"/>
<line x1="226.50" x2="313.60" y1="220.83" y2="220.83" stroke="#EBEBEB" stroke-width="0.55"/>
<line x1="226.50" x2="313.60" y1="251.58" y2="251.58" stroke="#EBEBEB" stroke-width="0.55"/>
<line x1="226.50" x2="313.60" y1="282.33" y2="282.33" stroke="#EBEBEB" stroke-width="0.55"/>
<line x1="226.50" x2="313.60" y1="313.08" y2="313.08" stroke="#EBEBEB" stroke-width="0.55"/>
<line x1="226.50" x2="313.60" y1="205.45" y2="205.45" stroke="#EBEBEB" stroke-width="1.1"/>
<line x1="226.50" x2="313.60" y1="236.20" y2="236.20" stroke="#EBEBEB" stroke-width="1.1"/>
<line x1="226.50" x2="313.60" y1="266.95" y2="266.95" stroke="#EBEBEB" stroke-width="1.1"/>
<line x1="226.50" x2="313.60" y1="297.70" y2="297.70" stroke="#EBEBEB" stroke-width="1.1"/>
<line x1="226.50" x2="313.60" y1="328.45" y2="328.45" stroke="#EBEBEB" stroke-width="1.1"/>
<line x1="238.52" x2="238.52" y1="199.30" y2="334.50" stroke="#EBEBEB" stroke-width="1.1"/>
<line x1="259.47" x2="259.47" y1="199.30" y2="334.50" stroke="#EBEBEB" stroke-width="1.1"/>
<line x1="280.43" x2="280.43" y1="199.30" y2="334.50" stroke="#EBEBEB" stroke-width="1.1"/>
<line x1="301.38" x2="301.38" y1="199.30" y2="334.50" stroke="#EBEBEB" stroke-width="1.1"/>
<line x1="226.50" x2="313.60" y1="243.30" y2="243.30" stroke="#262626" stroke-width="1.35" stroke-dasharray="3.75 3.75"/>
<g stroke="#0072B2" stroke-width="1.05" fill="none"><line x1="238.52" x2="238.52" y1="260.8" y2="264.40000000000003"/><line x1="236.52" x2="240.52" y1="260.8" y2="260.8"/><line x1="236.52" x2="240.52" y1="264.40000000000003" y2="264.40000000000003"/></g>
<path d="M236.22 262.6L238.52 260.30L240.82 262.6L238.52 264.90Z" fill="#0072B2"/>
<g stroke="#0072B2" stroke-width="1.05" fill="none"><line x1="259.47" x2="259.47" y1="268.8" y2="272.40000000000003"/><line x1="257.47" x2="261.47" y1="268.8" y2="268.8"/><line x1="257.47" x2="261.47" y1="272.40000000000003" y2="272.40000000000003"/></g>
<path d="M257.17 270.6L259.47 268.30L261.77 270.6L259.47 272.90Z" fill="#0072B2"/>
<g stroke="#0072B2" stroke-width="1.05" fill="none"><line x1="280.43" x2="280.43" y1="269.4" y2="273.0"/><line x1="278.43" x2="282.43" y1="269.4" y2="269.4"/><line x1="278.43" x2="282.43" y1="273.0" y2="273.0"/></g>
<path d="M278.12 271.2L280.43 268.90L282.73 271.2L280.43 273.50Z" fill="#0072B2"/>
<g stroke="#0072B2" stroke-width="1.05" fill="none"><line x1="301.38" x2="301.38" y1="272.59999999999997" y2="276.2"/><line x1="299.38" x2="303.38" y1="272.59999999999997" y2="272.59999999999997"/><line x1="299.38" x2="303.38" y1="276.2" y2="276.2"/></g>
<path d="M299.07 274.4L301.38 272.10L303.68 274.4L301.38 276.70Z" fill="#0072B2"/>
<rect x="226.50" y="184.10" width="87.10" height="15.20" fill="#D9D9D9"/>
<line x1="226.15" x2="313.95" y1="184.10" y2="184.10" stroke="#333" stroke-width="0.75"/>
<line x1="226.15" x2="313.95" y1="199.30" y2="199.30" stroke="#333" stroke-width="0.95"/>
<line x1="226.15" x2="313.95" y1="334.50" y2="334.50" stroke="#A5A5A5" stroke-width="1.6"/>
<line x1="226.50" x2="226.50" y1="184.10" y2="334.50" stroke="#333" stroke-width="0.7"/>
<line x1="313.60" x2="313.60" y1="184.10" y2="334.50" stroke="#333" stroke-width="0.7"/>
<line x1="238.52" x2="238.52" y1="334.50" y2="336.93" stroke="#333" stroke-width="1.1"/>
<line x1="259.47" x2="259.47" y1="334.50" y2="336.93" stroke="#333" stroke-width="1.1"/>
<line x1="280.43" x2="280.43" y1="334.50" y2="336.93" stroke="#333" stroke-width="1.1"/>
<line x1="301.38" x2="301.38" y1="334.50" y2="336.93" stroke="#333" stroke-width="1.1"/>
<line x1="319.20" x2="406.50" y1="220.83" y2="220.83" stroke="#EBEBEB" stroke-width="0.55"/>
<line x1="319.20" x2="406.50" y1="251.58" y2="251.58" stroke="#EBEBEB" stroke-width="0.55"/>
<line x1="319.20" x2="406.50" y1="282.33" y2="282.33" stroke="#EBEBEB" stroke-width="0.55"/>
<line x1="319.20" x2="406.50" y1="313.08" y2="313.08" stroke="#EBEBEB" stroke-width="0.55"/>
<line x1="319.20" x2="406.50" y1="205.45" y2="205.45" stroke="#EBEBEB" stroke-width="1.1"/>
<line x1="319.20" x2="406.50" y1="236.20" y2="236.20" stroke="#EBEBEB" stroke-width="1.1"/>
<line x1="319.20" x2="406.50" y1="266.95" y2="266.95" stroke="#EBEBEB" stroke-width="1.1"/>
<line x1="319.20" x2="406.50" y1="297.70" y2="297.70" stroke="#EBEBEB" stroke-width="1.1"/>
<line x1="319.20" x2="406.50" y1="328.45" y2="328.45" stroke="#EBEBEB" stroke-width="1.1"/>
<line x1="331.32" x2="331.32" y1="199.30" y2="334.50" stroke="#EBEBEB" stroke-width="1.1"/>
<line x1="352.27" x2="352.27" y1="199.30" y2="334.50" stroke="#EBEBEB" stroke-width="1.1"/>
<line x1="373.23" x2="373.23" y1="199.30" y2="334.50" stroke="#EBEBEB" stroke-width="1.1"/>
<line x1="394.18" x2="394.18" y1="199.30" y2="334.50" stroke="#EBEBEB" stroke-width="1.1"/>
<line x1="319.20" x2="406.50" y1="243.30" y2="243.30" stroke="#262626" stroke-width="1.35" stroke-dasharray="3.75 3.75"/>
<g stroke="#0072B2" stroke-width="1.05" fill="none"><line x1="331.32" x2="331.32" y1="251.5" y2="255.10000000000002"/><line x1="329.32" x2="333.32" y1="251.5" y2="251.5"/><line x1="329.32" x2="333.32" y1="255.10000000000002" y2="255.10000000000002"/></g>
<path d="M329.02 253.3L331.32 251.00L333.62 253.3L331.32 255.60Z" fill="#0072B2"/>
<g stroke="#0072B2" stroke-width="1.05" fill="none"><line x1="352.27" x2="352.27" y1="254.59999999999997" y2="258.2"/><line x1="350.27" x2="354.27" y1="254.59999999999997" y2="254.59999999999997"/><line x1="350.27" x2="354.27" y1="258.2" y2="258.2"/></g>
<path d="M349.97 256.4L352.27 254.10L354.57 256.4L352.27 258.70Z" fill="#0072B2"/>
<g stroke="#0072B2" stroke-width="1.05" fill="none"><line x1="373.23" x2="373.23" y1="253.1" y2="256.7"/><line x1="371.23" x2="375.23" y1="253.1" y2="253.1"/><line x1="371.23" x2="375.23" y1="256.7" y2="256.7"/></g>
<path d="M370.93 254.9L373.23 252.60L375.53 254.9L373.23 257.20Z" fill="#0072B2"/>
<g stroke="#0072B2" stroke-width="1.05" fill="none"><line x1="394.18" x2="394.18" y1="256.5" y2="260.1"/><line x1="392.18" x2="396.18" y1="256.5" y2="256.5"/><line x1="392.18" x2="396.18" y1="260.1" y2="260.1"/></g>
<path d="M391.88 258.3L394.18 256.00L396.48 258.3L394.18 260.60Z" fill="#0072B2"/>
<rect x="319.20" y="184.10" width="87.30" height="15.20" fill="#D9D9D9"/>
<line x1="318.85" x2="406.85" y1="184.10" y2="184.10" stroke="#333" stroke-width="0.75"/>
<line x1="318.85" x2="406.85" y1="199.30" y2="199.30" stroke="#333" stroke-width="0.95"/>
<line x1="318.85" x2="406.85" y1="334.50" y2="334.50" stroke="#A5A5A5" stroke-width="1.6"/>
<line x1="319.20" x2="319.20" y1="184.10" y2="334.50" stroke="#333" stroke-width="0.7"/>
<line x1="406.50" x2="406.50" y1="184.10" y2="334.50" stroke="#333" stroke-width="0.7"/>
<line x1="331.32" x2="331.32" y1="334.50" y2="336.93" stroke="#333" stroke-width="1.1"/>
<line x1="352.27" x2="352.27" y1="334.50" y2="336.93" stroke="#333" stroke-width="1.1"/>
<line x1="373.23" x2="373.23" y1="334.50" y2="336.93" stroke="#333" stroke-width="1.1"/>
<line x1="394.18" x2="394.18" y1="334.50" y2="336.93" stroke="#333" stroke-width="1.1"/>
<line x1="411.60" x2="499.50" y1="220.83" y2="220.83" stroke="#EBEBEB" stroke-width="0.55"/>
<line x1="411.60" x2="499.50" y1="251.58" y2="251.58" stroke="#EBEBEB" stroke-width="0.55"/>
<line x1="411.60" x2="499.50" y1="282.33" y2="282.33" stroke="#EBEBEB" stroke-width="0.55"/>
<line x1="411.60" x2="499.50" y1="313.08" y2="313.08" stroke="#EBEBEB" stroke-width="0.55"/>
<line x1="411.60" x2="499.50" y1="205.45" y2="205.45" stroke="#EBEBEB" stroke-width="1.1"/>
<line x1="411.60" x2="499.50" y1="236.20" y2="236.20" stroke="#EBEBEB" stroke-width="1.1"/>
<line x1="411.60" x2="499.50" y1="266.95" y2="266.95" stroke="#EBEBEB" stroke-width="1.1"/>
<line x1="411.60" x2="499.50" y1="297.70" y2="297.70" stroke="#EBEBEB" stroke-width="1.1"/>
<line x1="411.60" x2="499.50" y1="328.45" y2="328.45" stroke="#EBEBEB" stroke-width="1.1"/>
<line x1="424.02" x2="424.02" y1="199.30" y2="334.50" stroke="#EBEBEB" stroke-width="1.1"/>
<line x1="444.97" x2="444.97" y1="199.30" y2="334.50" stroke="#EBEBEB" stroke-width="1.1"/>
<line x1="465.93" x2="465.93" y1="199.30" y2="334.50" stroke="#EBEBEB" stroke-width="1.1"/>
<line x1="486.88" x2="486.88" y1="199.30" y2="334.50" stroke="#EBEBEB" stroke-width="1.1"/>
<line x1="411.60" x2="499.50" y1="243.30" y2="243.30" stroke="#262626" stroke-width="1.35" stroke-dasharray="3.75 3.75"/>
<g stroke="#0072B2" stroke-width="1.05" fill="none"><line x1="424.02" x2="424.02" y1="249.1" y2="252.70000000000002"/><line x1="422.02" x2="426.02" y1="249.1" y2="249.1"/><line x1="422.02" x2="426.02" y1="252.70000000000002" y2="252.70000000000002"/></g>
<path d="M421.72 250.9L424.02 248.60L426.32 250.9L424.02 253.20Z" fill="#0072B2"/>
<g stroke="#0072B2" stroke-width="1.05" fill="none"><line x1="444.97" x2="444.97" y1="247.6" y2="251.20000000000002"/><line x1="442.97" x2="446.97" y1="247.6" y2="247.6"/><line x1="442.97" x2="446.97" y1="251.20000000000002" y2="251.20000000000002"/></g>
<path d="M442.67 249.4L444.97 247.10L447.27 249.4L444.97 251.70Z" fill="#0072B2"/>
<g stroke="#0072B2" stroke-width="1.05" fill="none"><line x1="465.93" x2="465.93" y1="250.79999999999998" y2="254.4"/><line x1="463.93" x2="467.93" y1="250.79999999999998" y2="250.79999999999998"/><line x1="463.93" x2="467.93" y1="254.4" y2="254.4"/></g>
<path d="M463.62 252.6L465.93 250.30L468.23 252.6L465.93 254.90Z" fill="#0072B2"/>
<g stroke="#0072B2" stroke-width="1.05" fill="none"><line x1="486.88" x2="486.88" y1="251.0" y2="254.60000000000002"/><line x1="484.88" x2="488.88" y1="251.0" y2="251.0"/><line x1="484.88" x2="488.88" y1="254.60000000000002" y2="254.60000000000002"/></g>
<path d="M484.57 252.8L486.88 250.50L489.18 252.8L486.88 255.10Z" fill="#0072B2"/>
<rect x="411.60" y="184.10" width="87.90" height="15.20" fill="#D9D9D9"/>
<line x1="411.25" x2="499.85" y1="184.10" y2="184.10" stroke="#333" stroke-width="0.75"/>
<line x1="411.25" x2="499.85" y1="199.30" y2="199.30" stroke="#333" stroke-width="0.95"/>
<line x1="411.25" x2="499.85" y1="334.50" y2="334.50" stroke="#A5A5A5" stroke-width="1.6"/>
<line x1="411.60" x2="411.60" y1="184.10" y2="334.50" stroke="#333" stroke-width="0.7"/>
<line x1="499.50" x2="499.50" y1="184.10" y2="334.50" stroke="#333" stroke-width="0.7"/>
<line x1="424.02" x2="424.02" y1="334.50" y2="336.93" stroke="#333" stroke-width="1.1"/>
<line x1="444.97" x2="444.97" y1="334.50" y2="336.93" stroke="#333" stroke-width="1.1"/>
<line x1="465.93" x2="465.93" y1="334.50" y2="336.93" stroke="#333" stroke-width="1.1"/>
<line x1="486.88" x2="486.88" y1="334.50" y2="336.93" stroke="#333" stroke-width="1.1"/>
<line x1="504.60" x2="592.00" y1="220.83" y2="220.83" stroke="#EBEBEB" stroke-width="0.55"/>
<line x1="504.60" x2="592.00" y1="251.58" y2="251.58" stroke="#EBEBEB" stroke-width="0.55"/>
<line x1="504.60" x2="592.00" y1="282.33" y2="282.33" stroke="#EBEBEB" stroke-width="0.55"/>
<line x1="504.60" x2="592.00" y1="313.08" y2="313.08" stroke="#EBEBEB" stroke-width="0.55"/>
<line x1="504.60" x2="592.00" y1="205.45" y2="205.45" stroke="#EBEBEB" stroke-width="1.1"/>
<line x1="504.60" x2="592.00" y1="236.20" y2="236.20" stroke="#EBEBEB" stroke-width="1.1"/>
<line x1="504.60" x2="592.00" y1="266.95" y2="266.95" stroke="#EBEBEB" stroke-width="1.1"/>
<line x1="504.60" x2="592.00" y1="297.70" y2="297.70" stroke="#EBEBEB" stroke-width="1.1"/>
<line x1="504.60" x2="592.00" y1="328.45" y2="328.45" stroke="#EBEBEB" stroke-width="1.1"/>
<line x1="516.77" x2="516.77" y1="199.30" y2="334.50" stroke="#EBEBEB" stroke-width="1.1"/>
<line x1="537.72" x2="537.72" y1="199.30" y2="334.50" stroke="#EBEBEB" stroke-width="1.1"/>
<line x1="558.67" x2="558.67" y1="199.30" y2="334.50" stroke="#EBEBEB" stroke-width="1.1"/>
<line x1="579.62" x2="579.62" y1="199.30" y2="334.50" stroke="#EBEBEB" stroke-width="1.1"/>
<line x1="504.60" x2="592.00" y1="243.30" y2="243.30" stroke="#262626" stroke-width="1.35" stroke-dasharray="3.75 3.75"/>
<g stroke="#56B4E9" stroke-width="1.05" fill="none"><line x1="516.77" x2="516.77" y1="240.0" y2="243.60000000000002"/><line x1="514.77" x2="518.77" y1="240.0" y2="240.0"/><line x1="514.77" x2="518.77" y1="243.60000000000002" y2="243.60000000000002"/></g>
<path d="M514.48 241.8L516.77 239.50L519.07 241.8L516.77 244.10Z" fill="#56B4E9"/>
<g stroke="#0072B2" stroke-width="1.05" fill="none"><line x1="537.72" x2="537.72" y1="246.6" y2="250.20000000000002"/><line x1="535.72" x2="539.72" y1="246.6" y2="246.6"/><line x1="535.72" x2="539.72" y1="250.20000000000002" y2="250.20000000000002"/></g>
<path d="M535.42 248.4L537.72 246.10L540.02 248.4L537.72 250.70Z" fill="#0072B2"/>
<g stroke="#0072B2" stroke-width="1.05" fill="none"><line x1="558.67" x2="558.67" y1="246.2" y2="249.8"/><line x1="556.67" x2="560.67" y1="246.2" y2="246.2"/><line x1="556.67" x2="560.67" y1="249.8" y2="249.8"/></g>
<path d="M556.38 248.0L558.67 245.70L560.97 248.0L558.67 250.30Z" fill="#0072B2"/>
<g stroke="#0072B2" stroke-width="1.05" fill="none"><line x1="579.62" x2="579.62" y1="244.89999999999998" y2="248.5"/><line x1="577.62" x2="581.62" y1="244.89999999999998" y2="244.89999999999998"/><line x1="577.62" x2="581.62" y1="248.5" y2="248.5"/></g>
<path d="M577.32 246.7L579.62 244.40L581.92 246.7L579.62 249.00Z" fill="#0072B2"/>
<rect x="504.60" y="184.10" width="87.40" height="15.20" fill="#D9D9D9"/>
<line x1="504.25" x2="592.35" y1="184.10" y2="184.10" stroke="#333" stroke-width="0.75"/>
<line x1="504.25" x2="592.35" y1="199.30" y2="199.30" stroke="#333" stroke-width="0.95"/>
<line x1="504.25" x2="592.35" y1="334.50" y2="334.50" stroke="#A5A5A5" stroke-width="1.6"/>
<line x1="504.60" x2="504.60" y1="184.10" y2="334.50" stroke="#333" stroke-width="0.7"/>
<line x1="592.00" x2="592.00" y1="184.10" y2="334.50" stroke="#333" stroke-width="0.7"/>
<line x1="516.77" x2="516.77" y1="334.50" y2="336.93" stroke="#333" stroke-width="1.1"/>
<line x1="537.72" x2="537.72" y1="334.50" y2="336.93" stroke="#333" stroke-width="1.1"/>
<line x1="558.67" x2="558.67" y1="334.50" y2="336.93" stroke="#333" stroke-width="1.1"/>
<line x1="579.62" x2="579.62" y1="334.50" y2="336.93" stroke="#333" stroke-width="1.1"/>
<line x1="597.50" x2="684.45" y1="220.83" y2="220.83" stroke="#EBEBEB" stroke-width="0.55"/>
<line x1="597.50" x2="684.45" y1="251.58" y2="251.58" stroke="#EBEBEB" stroke-width="0.55"/>
<line x1="597.50" x2="684.45" y1="282.33" y2="282.33" stroke="#EBEBEB" stroke-width="0.55"/>
<line x1="597.50" x2="684.45" y1="313.08" y2="313.08" stroke="#EBEBEB" stroke-width="0.55"/>
<line x1="597.50" x2="684.45" y1="205.45" y2="205.45" stroke="#EBEBEB" stroke-width="1.1"/>
<line x1="597.50" x2="684.45" y1="236.20" y2="236.20" stroke="#EBEBEB" stroke-width="1.1"/>
<line x1="597.50" x2="684.45" y1="266.95" y2="266.95" stroke="#EBEBEB" stroke-width="1.1"/>
<line x1="597.50" x2="684.45" y1="297.70" y2="297.70" stroke="#EBEBEB" stroke-width="1.1"/>
<line x1="597.50" x2="684.45" y1="328.45" y2="328.45" stroke="#EBEBEB" stroke-width="1.1"/>
<line x1="609.45" x2="609.45" y1="199.30" y2="334.50" stroke="#EBEBEB" stroke-width="1.1"/>
<line x1="630.40" x2="630.40" y1="199.30" y2="334.50" stroke="#EBEBEB" stroke-width="1.1"/>
<line x1="651.35" x2="651.35" y1="199.30" y2="334.50" stroke="#EBEBEB" stroke-width="1.1"/>
<line x1="672.30" x2="672.30" y1="199.30" y2="334.50" stroke="#EBEBEB" stroke-width="1.1"/>
<line x1="597.50" x2="684.45" y1="243.30" y2="243.30" stroke="#262626" stroke-width="1.35" stroke-dasharray="3.75 3.75"/>
<g stroke="#0072B2" stroke-width="1.05" fill="none"><line x1="609.45" x2="609.45" y1="258.59999999999997" y2="262.2"/><line x1="607.45" x2="611.45" y1="258.59999999999997" y2="258.59999999999997"/><line x1="607.45" x2="611.45" y1="262.2" y2="262.2"/></g>
<path d="M607.15 260.4L609.45 258.10L611.75 260.4L609.45 262.70Z" fill="#0072B2"/>
<g stroke="#0072B2" stroke-width="1.05" fill="none"><line x1="630.40" x2="630.40" y1="255.7" y2="259.3"/><line x1="628.40" x2="632.40" y1="255.7" y2="255.7"/><line x1="628.40" x2="632.40" y1="259.3" y2="259.3"/></g>
<path d="M628.10 257.5L630.40 255.20L632.70 257.5L630.40 259.80Z" fill="#0072B2"/>
<g stroke="#0072B2" stroke-width="1.05" fill="none"><line x1="651.35" x2="651.35" y1="250.0" y2="253.60000000000002"/><line x1="649.35" x2="653.35" y1="250.0" y2="250.0"/><line x1="649.35" x2="653.35" y1="253.60000000000002" y2="253.60000000000002"/></g>
<path d="M649.05 251.8L651.35 249.50L653.65 251.8L651.35 254.10Z" fill="#0072B2"/>
<g stroke="#0072B2" stroke-width="1.05" fill="none"><line x1="672.30" x2="672.30" y1="259.09999999999997" y2="262.7"/><line x1="670.30" x2="674.30" y1="259.09999999999997" y2="259.09999999999997"/><line x1="670.30" x2="674.30" y1="262.7" y2="262.7"/></g>
<path d="M670.00 260.9L672.30 258.60L674.60 260.9L672.30 263.20Z" fill="#0072B2"/>
<rect x="597.50" y="184.10" width="86.95" height="15.20" fill="#D9D9D9"/>
<line x1="597.15" x2="684.80" y1="184.10" y2="184.10" stroke="#333" stroke-width="0.75"/>
<line x1="597.15" x2="684.80" y1="199.30" y2="199.30" stroke="#333" stroke-width="0.95"/>
<line x1="597.15" x2="684.80" y1="334.50" y2="334.50" stroke="#A5A5A5" stroke-width="1.6"/>
<line x1="597.50" x2="597.50" y1="184.10" y2="334.50" stroke="#333" stroke-width="0.7"/>
<line x1="684.45" x2="684.45" y1="184.10" y2="334.50" stroke="#333" stroke-width="0.7"/>
<line x1="609.45" x2="609.45" y1="334.50" y2="336.93" stroke="#333" stroke-width="1.1"/>
<line x1="630.40" x2="630.40" y1="334.50" y2="336.93" stroke="#333" stroke-width="1.1"/>
<line x1="651.35" x2="651.35" y1="334.50" y2="336.93" stroke="#333" stroke-width="1.1"/>
<line x1="672.30" x2="672.30" y1="334.50" y2="336.93" stroke="#333" stroke-width="1.1"/>
<line x1="38.53" x2="40.96" y1="205.45" y2="205.45" stroke="#333" stroke-width="1.1"/>
<line x1="38.53" x2="40.96" y1="236.20" y2="236.20" stroke="#333" stroke-width="1.1"/>
<line x1="38.53" x2="40.96" y1="266.95" y2="266.95" stroke="#333" stroke-width="1.1"/>
<line x1="38.53" x2="40.96" y1="297.70" y2="297.70" stroke="#333" stroke-width="1.1"/>
<line x1="38.53" x2="40.96" y1="328.45" y2="328.45" stroke="#333" stroke-width="1.1"/>
<g filter="url(#tb)"><text class="st" x="84.70" y="10.60" text-anchor="middle">ADHD</text><text class="tk" x="53.18" y="160.75" text-anchor="middle">Edu</text><text class="tk" x="74.13" y="160.75" text-anchor="middle">Hea1</text><text class="tk" x="95.08" y="160.75" text-anchor="middle">Peer</text><text class="tk" x="116.03" y="160.75" text-anchor="middle">QoL</text><text class="st" x="177.56" y="10.60" text-anchor="middle">ASD</text><text class="tk" x="146.04" y="160.75" text-anchor="middle">Edu</text><text class="tk" x="166.99" y="160.75" text-anchor="middle">Hea1</text><text class="tk" x="187.94" y="160.75" text-anchor="middle">Peer</text><text class="tk" x="208.88" y="160.75" text-anchor="middle">QoL</text><text class="st" x="270.05" y="10.60" text-anchor="middle">MDD</text><text class="tk" x="238.52" y="160.75" text-anchor="middle">Edu</text><text class="tk" x="259.47" y="160.75" text-anchor="middle">Hea1</text><text class="tk" x="280.43" y="160.75" text-anchor="middle">Peer</text><text class="tk" x="301.38" y="160.75" text-anchor="middle">QoL</text><text class="st" x="362.85" y="10.60" text-anchor="middle">ANX</text><text class="tk" x="331.32" y="160.75" text-anchor="middle">Edu</text><text class="tk" x="352.27" y="160.75" text-anchor="middle">Hea1</text><text class="tk" x="373.23" y="160.75" text-anchor="middle">Peer</text><text class="tk" x="394.18" y="160.75" text-anchor="middle">QoL</text><text class="st" x="455.55" y="10.60" text-anchor="middle">SCZ</text><text class="tk" x="424.02" y="160.75" text-anchor="middle">Edu</text><text class="tk" x="444.97" y="160.75" text-anchor="middle">Hea1</text><text class="tk" x="465.93" y="160.75" text-anchor="middle">Peer</text><text class="tk" x="486.88" y="160.75" text-anchor="middle">QoL</text><text class="st" x="548.30" y="10.60" text-anchor="middle">BIP</text><text class="tk" x="516.77" y="160.75" text-anchor="middle">Edu</text><text class="tk" x="537.72" y="160.75" text-anchor="middle">Hea1</text><text class="tk" x="558.67" y="160.75" text-anchor="middle">Peer</text><text class="tk" x="579.62" y="160.75" text-anchor="middle">QoL</text><text class="st" x="640.98" y="10.60" text-anchor="middle">CUD</text><text class="tk" x="609.45" y="160.75" text-anchor="middle">Edu</text><text class="tk" x="630.40" y="160.75" text-anchor="middle">Hea1</text><text class="tk" x="651.35" y="160.75" text-anchor="middle">Peer</text><text class="tk" x="672.30" y="160.75" text-anchor="middle">QoL</text><text class="tk" x="36.56" y="18.96" text-anchor="end">0.080</text><text class="tk" x="36.56" y="52.26" text-anchor="end">0.015</text><text class="tk" x="36.56" y="85.56" text-anchor="end"><tspan dy="-0.7">−</tspan><tspan dy="0.7">0.050</tspan></text><text class="tk" x="36.56" y="118.86" text-anchor="end"><tspan dy="-0.7">−</tspan><tspan dy="0.7">0.115</tspan></text><text class="tk" x="36.56" y="152.16" text-anchor="end"><tspan dy="-0.7">−</tspan><tspan dy="0.7">0.180</tspan></text><text class="ti" transform="translate(7.1,82.95) rotate(-90)" text-anchor="middle">Standardized estimate</text><text class="ti" x="362.71" y="172.25" text-anchor="middle">Quality of life latent factor</text><text class="tg" x="2.0" y="11.80">A</text><text class="st" x="84.70" y="194.30" text-anchor="middle">ADHD</text><text class="tk" x="53.18" y="344.80" text-anchor="middle">SES</text><text class="tk" x="74.13" y="344.80" text-anchor="middle">Hea2</text><text class="tk" x="95.08" y="344.80" text-anchor="middle">Soc</text><text class="tk" x="116.03" y="344.80" text-anchor="middle">QoL</text><text class="st" x="177.56" y="194.30" text-anchor="middle">ASD</text><text class="tk" x="146.04" y="344.80" text-anchor="middle">SES</text><text class="tk" x="166.99" y="344.80" text-anchor="middle">Hea2</text><text class="tk" x="187.94" y="344.80" text-anchor="middle">Soc</text><text class="tk" x="208.88" y="344.80" text-anchor="middle">QoL</text><text class="st" x="270.05" y="194.30" text-anchor="middle">MDD</text><text class="tk" x="238.52" y="344.80" text-anchor="middle">SES</text><text class="tk" x="259.47" y="344.80" text-anchor="middle">Hea2</text><text class="tk" x="280.43" y="344.80" text-anchor="middle">Soc</text><text class="tk" x="301.38" y="344.80" text-anchor="middle">QoL</text><text class="st" x="362.85" y="194.30" text-anchor="middle">ANX</text><text class="tk" x="331.32" y="344.80" text-anchor="middle">SES</text><text class="tk" x="352.27" y="344.80" text-anchor="middle">Hea2</text><text class="tk" x="373.23" y="344.80" text-anchor="middle">Soc</text><text class="tk" x="394.18" y="344.80" text-anchor="middle">QoL</text><text class="st" x="455.55" y="194.30" text-anchor="middle">SCZ</text><text class="tk" x="424.02" y="344.80" text-anchor="middle">SES</text><text class="tk" x="444.97" y="344.80" text-anchor="middle">Hea2</text><text class="tk" x="465.93" y="344.80" text-anchor="middle">Soc</text><text class="tk" x="486.88" y="344.80" text-anchor="middle">QoL</text><text class="st" x="548.30" y="194.30" text-anchor="middle">BIP</text><text class="tk" x="516.77" y="344.80" text-anchor="middle">SES</text><text class="tk" x="537.72" y="344.80" text-anchor="middle">Hea2</text><text class="tk" x="558.67" y="344.80" text-anchor="middle">Soc</text><text class="tk" x="579.62" y="344.80" text-anchor="middle">QoL</text><text class="st" x="640.98" y="194.30" text-anchor="middle">CUD</text><text class="tk" x="609.45" y="344.80" text-anchor="middle">SES</text><text class="tk" x="630.40" y="344.80" text-anchor="middle">Hea2</text><text class="tk" x="651.35" y="344.80" text-anchor="middle">Soc</text><text class="tk" x="672.30" y="344.80" text-anchor="middle">QoL</text><text class="tk" x="36.56" y="208.65" text-anchor="end">0.080</text><text class="tk" x="36.56" y="239.40" text-anchor="end">0.015</text><text class="tk" x="36.56" y="270.15" text-anchor="end"><tspan dy="-0.7">−</tspan><tspan dy="0.7">0.050</tspan></text><text class="tk" x="36.56" y="300.90" text-anchor="end"><tspan dy="-0.7">−</tspan><tspan dy="0.7">0.115</tspan></text><text class="tk" x="36.56" y="331.65" text-anchor="end"><tspan dy="-0.7">−</tspan><tspan dy="0.7">0.180</tspan></text><text class="ti" transform="translate(7.1,266.90) rotate(-90)" text-anchor="middle">Standardized estimate</text><text class="ti" x="362.71" y="356.30" text-anchor="middle">Quality of life latent factor</text><text class="tg" x="2.0" y="196.20">B</text></g>
</svg></body></html>
